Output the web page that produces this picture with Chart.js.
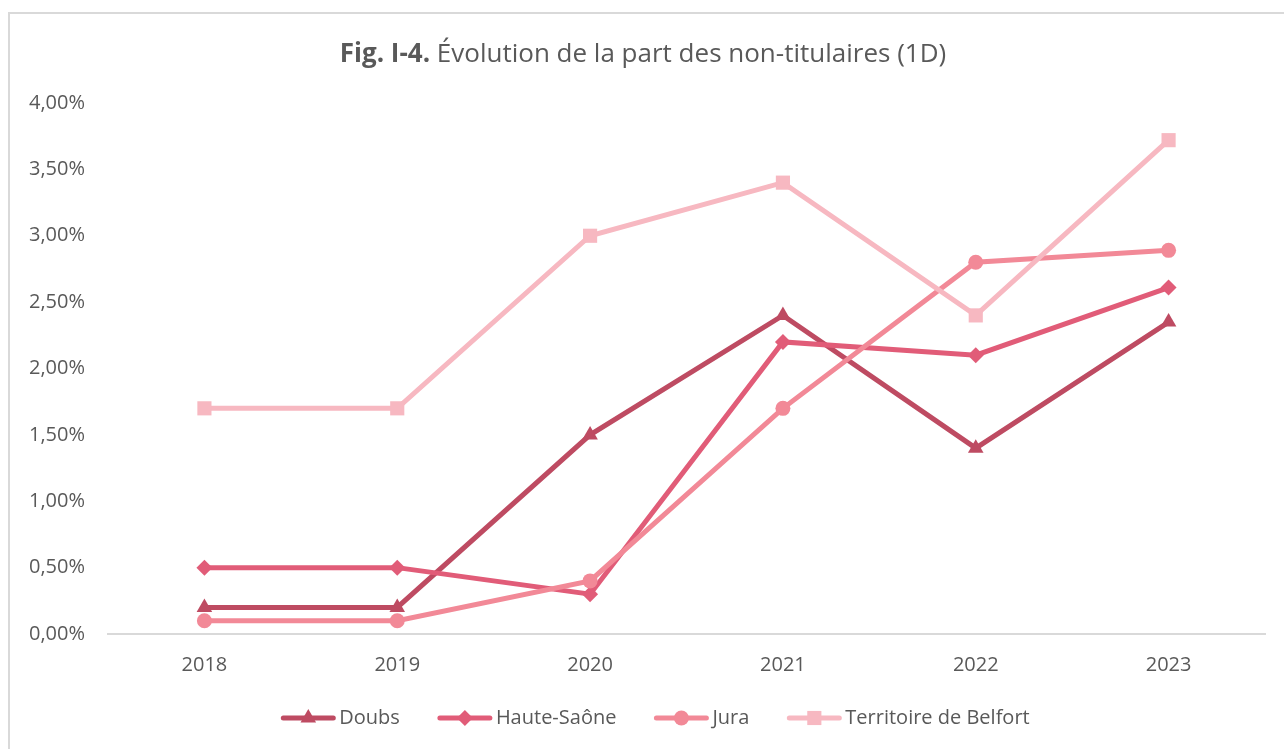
<!DOCTYPE html>
<html>
<head>
<meta charset="utf-8">
<script src="https://cdn.jsdelivr.net/npm/chart.js@4"></script>
<style>
  body { margin: 0; background: #fff; overflow: hidden; }
  #frame { position: absolute; left: 8px; top: 12px; width: 1400px; height: 900px; border: 2px solid #d9d9d9; }
  #chart { position: absolute; left: 0; top: 0; }
</style>
</head>
<body>
<div id="frame"></div>
<canvas id="chart" width="1284" height="749"></canvas>
<script>
const years = ['2018', '2019', '2020', '2021', '2022', '2023'];
const doubs = [0.002, 0.002, 0.015, 0.024, 0.014, 0.0235];
const hauteSaone = [0.005, 0.005, 0.003, 0.022, 0.021, 0.0261];
const jura = [0.001, 0.001, 0.004, 0.017, 0.028, 0.0289];
const belfort = [0.017, 0.017, 0.030, 0.034, 0.024, 0.0372];

const FONT = '"Open Sans", "Noto Sans", sans-serif';
const GREY = '#595959';

const series = [
    {label: 'Doubs', data: doubs, color: '#be4b62', style: 'triangle', radius: 9, order: 3},
    {label: 'Haute-Saône', data: hauteSaone, color: '#e15c78', style: 'rectRot', radius: 8, order: 2},
    {label: 'Jura', data: jura, color: '#f28997', style: 'circle', radius: 7.5, order: 1},
    {label: 'Territoire de Belfort', data: belfort, color: '#f7b8c1', style: 'rect', radius: 10, order: 0},
];

// title with bold prefix, drawn by hand
const titlePlugin = {
    id: 'mixedTitle',
    afterDraw(chart) {
        const ctx = chart.ctx;
        const bold = 'Fig. I-4. ';
        const rest = 'Évolution de la part des non-titulaires (1D)';
        ctx.save();
        ctx.fillStyle = GREY;
        ctx.textBaseline = 'middle';
        ctx.font = 'bold 26px ' + FONT;
        const wb = ctx.measureText(bold).width;
        ctx.font = '26px ' + FONT;
        const wr = ctx.measureText(rest).width;
        let x = 643 - (wb + wr) / 2;
        ctx.font = 'bold 26px ' + FONT;
        ctx.fillText(bold, x, 55);
        ctx.font = '26px ' + FONT;
        ctx.fillText(rest, x + wb, 55);
        ctx.restore();
    }
};

// legend with line + marker, like the office one
const legendPlugin = {
    id: 'lineLegend',
    afterDraw(chart) {
        const ctx = chart.ctx;
        const y = 718;
        ctx.save();
        ctx.font = '20px ' + FONT;
        ctx.textBaseline = 'middle';
        const gap = 37, sample = 56;
        const widths = series.map(s => sample + 3 + ctx.measureText(s.label).width);
        const total = widths.reduce((a, b) => a + b, 0) + gap * (series.length - 1);
        let x = 655 - total / 2;
        series.forEach((s, i) => {
            ctx.strokeStyle = s.color;
            ctx.lineWidth = 5;
            ctx.lineCap = 'round';
            ctx.beginPath();
            ctx.moveTo(x + 3, y);
            ctx.lineTo(x + sample - 3, y);
            ctx.stroke();
            ctx.fillStyle = s.color;
            Chart.helpers.drawPoint(ctx, {pointStyle: s.style, radius: s.radius, borderWidth: 0}, x + sample / 2, y);
            ctx.fillStyle = GREY;
            ctx.fillText(s.label, x + sample + 3, y);
            x += widths[i] + gap;
        });
        ctx.restore();
    }
};

new Chart(document.getElementById('chart'), {
    type: 'line',
    data: {
        labels: years,
        datasets: series.map(s => ({
            label: s.label,
            data: s.data,
            borderColor: s.color,
            backgroundColor: s.color,
            borderWidth: 5,
            pointStyle: s.style,
            pointRadius: s.radius,
            pointBorderWidth: 0,
            order: s.order,
            tension: 0,
        })),
    },
    options: {
        responsive: false,
        animation: false,
        devicePixelRatio: 1,
        layout: {padding: {top: 103, right: 19, bottom: 55, left: 0}},
        plugins: {legend: {display: false}, tooltip: {enabled: false}, title: {display: false}},
        scales: {
            x: {
                offset: true,
                grid: {display: false, drawTicks: false},
                border: {display: true, color: '#d9d9d9', width: 2},
                ticks: {color: GREY, font: {family: FONT, size: 20}, padding: 19},
                afterFit: scale => { scale.height = 60; },
            },
            y: {
                min: 0,
                max: 0.04,
                grid: {display: false, drawTicks: false},
                border: {display: false},
                ticks: {
                    stepSize: 0.005,
                    color: GREY,
                    font: {family: FONT, size: 20},
                    padding: 23,
                    callback: v => (v * 100).toFixed(2).replace('.', ',') + '%',
                },
                afterFit: scale => { scale.width = 108; },
            },
        },
    },
    plugins: [titlePlugin, legendPlugin],
});
</script>
</body>
</html>
